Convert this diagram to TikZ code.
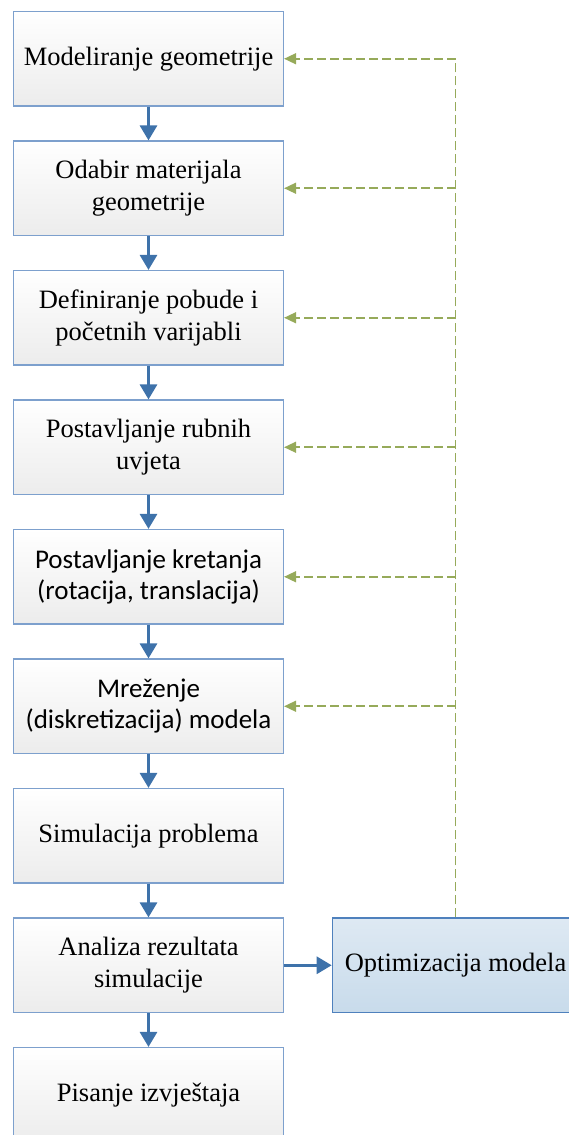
\documentclass[tikz,border=0pt]{standalone}
\usepackage{fontspec}
\setmainfont{Liberation Serif}
\newfontfamily\calfont{Carlito}
\usetikzlibrary{arrows.meta}
\definecolor{boxline}{RGB}{125,160,205}
\definecolor{optline}{RGB}{79,129,189}
\definecolor{flowblue}{RGB}{62,114,170}
\definecolor{dashgreen}{RGB}{150,170,90}
\definecolor{grayfill}{RGB}{236,236,236}
\definecolor{opttop}{RGB}{222,233,243}
\definecolor{optbot}{RGB}{200,219,235}
\tikzset{
  stepbox/.style={draw=boxline, line width=1.2pt, top color=white, bottom color=grayfill,
    minimum width=270pt, minimum height=94.5pt, inner sep=0pt, align=center,
    font=\fontsize{26.5}{32}\selectfont},
  sansbox/.style={stepbox, font=\calfont\fontsize{27}{31}\selectfont},
  optbox/.style={draw=optline, line width=1.2pt, top color=opttop, bottom color=optbot,
    minimum width=246.4pt, minimum height=94.5pt, inner sep=0pt, align=center,
    font=\fontsize{26.5}{32}\selectfont},
  flow/.style={draw=flowblue, line width=3pt, -{Triangle[length=15pt,width=17pt]}},
  feedback/.style={draw=dashgreen, line width=1.6pt, dash pattern=on 9pt off 4pt,
    -{Triangle[length=12pt,width=11pt]}},
  trunk/.style={draw=dashgreen, line width=1.6pt, dash pattern=on 9pt off 4pt}
}
\begin{document}
\begin{tikzpicture}[x=1pt,y=-1pt]
\clip (0,0) rectangle (569,1135);
\node[stepbox] (b1) at (148.5,58.75) {Modeliranje geometrije};
\node[stepbox] (b2) at (148.5,188.25) {Odabir materijala\\geometrije};
\node[stepbox] (b3) at (148.5,317.75) {Definiranje pobude i\\početnih varijabli};
\node[stepbox] (b4) at (148.5,447.25) {Postavljanje rubnih\\uvjeta};
\node[sansbox] (b5) at (148.5,576.75) {Postavljanje kretanja\\(rotacija, translacija)};
\node[sansbox] (b6) at (148.5,706.25) {Mreženje\\(diskretizacija) modela};
\node[stepbox] (b7) at (148.5,835.75) {Simulacija problema};
\node[stepbox] (b8) at (148.5,965.25) {Analiza rezultata\\simulacije};
\node[stepbox] (b9) at (148.5,1094.75) {Pisanje izvještaja};
\node[optbox] (opt) at (455.5,965.25) {Optimizacija modela};
\foreach \a/\b in {b1/b2,b2/b3,b3/b4,b4/b5,b5/b6,b6/b7,b7/b8,b8/b9}
  \draw[flow] (\a.south) -- (\b.north);
\draw[flow] (b8.east) -- (opt.west);
\foreach \k in {1,...,6}
  \coordinate (j\k) at (opt.north |- b\k.east);
\draw[trunk] (opt.north) -- (j1);
\foreach \k in {1,...,6}
  \draw[feedback] (j\k) -- (b\k.east);
\end{tikzpicture}
\end{document}
